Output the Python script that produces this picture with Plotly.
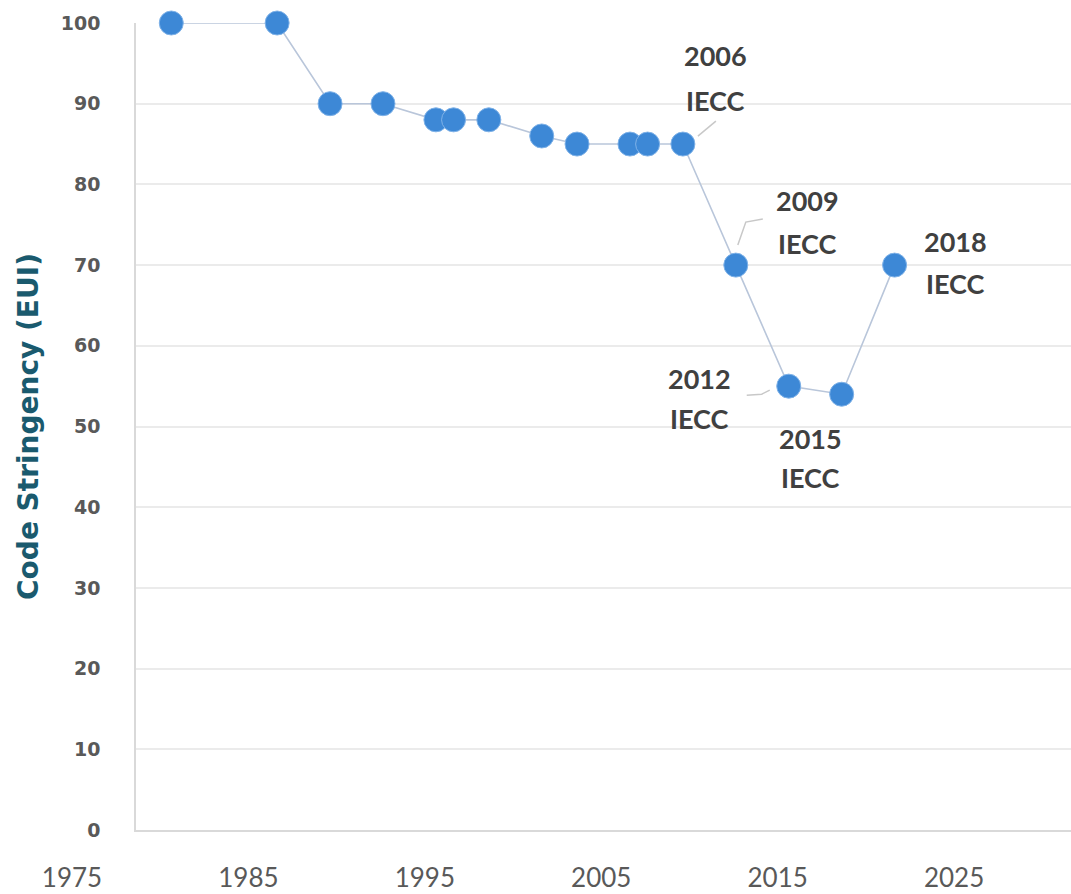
import plotly.graph_objects as go

years = [1977, 1983, 1986, 1989, 1992, 1993, 1995, 1998, 2000, 2003, 2004, 2006, 2009, 2012, 2015, 2018]
eui = [100, 100, 90, 90, 88, 88, 88, 86, 85, 85, 85, 85, 70, 55, 54, 70]

label_years = [2006, 2009, 2012, 2015, 2018]
label_vals = [85, 70, 55, 54, 70]
label_line1 = ["2006", "2009", "2012", "2015", "2018"]
label_line2 = ["IECC", "IECC", "IECC", "IECC", "IECC"]

x_ticks = [1975, 1985, 1995, 2005, 2015, 2025]
y_ticks = [0, 10, 20, 30, 40, 50, 60, 70, 80, 90, 100]

fig = go.Figure()
fig.add_trace(go.Scatter(
    x=years, y=eui, mode="lines+markers",
    line=dict(color="#b9c6da", width=1.6),
    marker=dict(size=24, color="#3d88d6", line=dict(color="#7fb2e8", width=1)),
    cliponaxis=False, showlegend=False, hoverinfo="skip",
))

# text placement (pixel offsets of each line's centre from its point)
offsets = {
    2006: (33, -89, -44),
    2009: (72, -65, -22),
    2012: (-89, -8, 32),
    2015: (-31, 44, 83),
    2018: (61, -24, 18),
}
# leader-line paths in pixels relative to the point
leaders = {
    2006: "M 15 8 L 33 23",
    2009: "M 2 20 L 10 43 L 27 46",
    2012: "M -19 -4 L -27 -8 L -42 -9",
}
lab_font = dict(family="Lato", size=27, color="#404040", weight="bold")
for yr, v, t1, t2 in zip(label_years, label_vals, label_line1, label_line2):
    dx, dy1, dy2 = offsets[yr]
    for t, dy in ((t1, dy1), (t2, dy2)):
        fig.add_annotation(x=yr, y=v, xref="x", yref="y", text=t, showarrow=False,
                           xshift=dx, yshift=-dy, font=lab_font)
    if yr in leaders:
        fig.add_shape(type="path", xref="x", yref="y", xsizemode="pixel", ysizemode="pixel",
                      xanchor=yr, yanchor=v, path=leaders[yr],
                      line=dict(color="#c8c8c8", width=1.5), layer="below")

fig.update_layout(
    width=1071, height=894,
    margin=dict(l=136, r=0, t=23, b=64),
    paper_bgcolor="white", plot_bgcolor="white",
    xaxis=dict(
        range=[1975, 2028], tickvals=x_ticks, ticktext=[str(v) for v in x_ticks],
        showgrid=False, zeroline=False, showline=True, linecolor="#d9d9d9", linewidth=1.5,
        ticks="", ticklabelshift=-64, ticklabelstandoff=24, automargin=False,
        tickfont=dict(family="Liberation Sans Narrow, Lato", size=26, color="#595959"),
    ),
    yaxis=dict(
        range=[0, 100], tickvals=y_ticks, showgrid=True, gridcolor="#ebebeb", gridwidth=1.5,
        zeroline=False, showline=True, linecolor="#d9d9d9", linewidth=1.5,
        ticks="", ticklabelstandoff=30, automargin=False,
        tickfont=dict(family="DejaVu Sans", size=19, color="#595959", weight="bold"),
        title=dict(text="Code Stringency (EUI)", standoff=14,
                   font=dict(family="DejaVu Sans", size=28, color="#1a5a6e", weight="bold")),
    ),
)

fig.write_html("out.html", config={"displayModeBar": False},
               post_script="document.body.style.margin='0px';")
